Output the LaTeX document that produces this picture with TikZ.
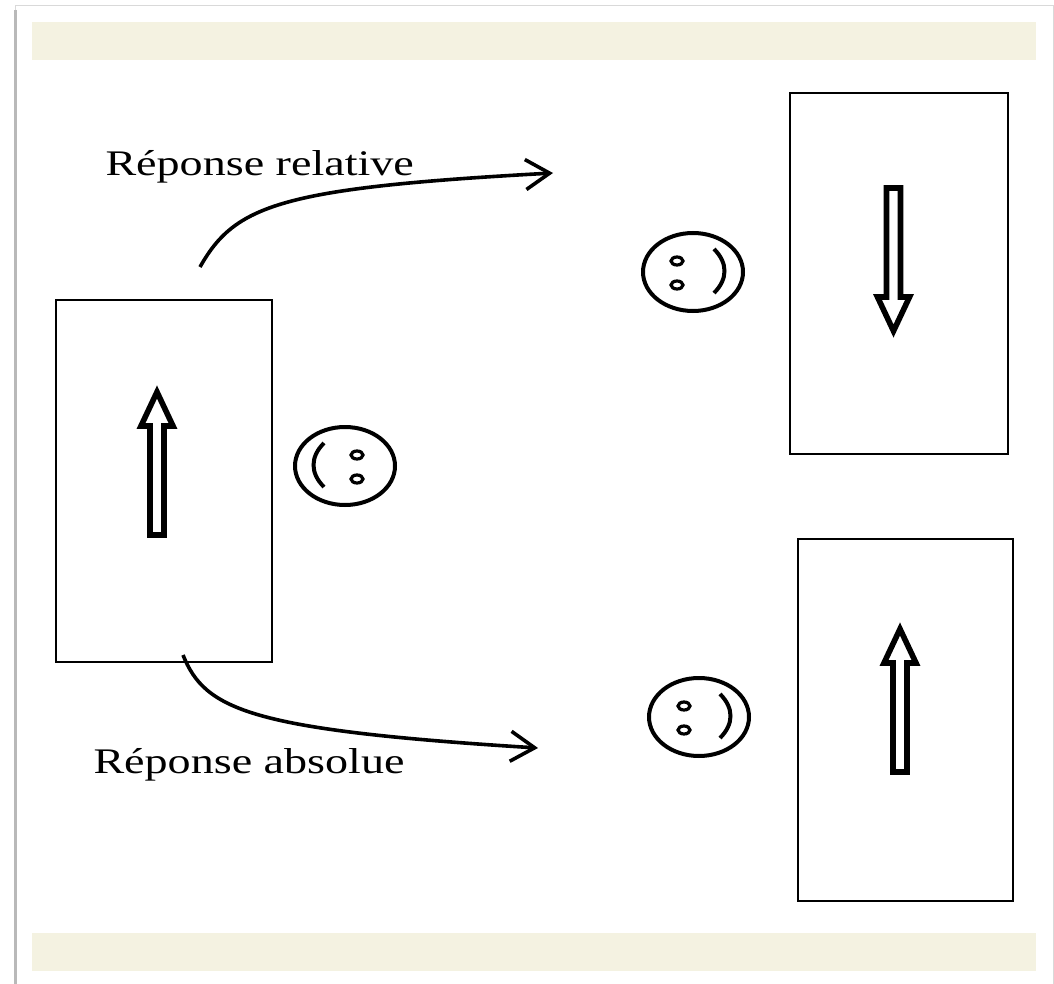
\documentclass[tikz,border=0pt]{standalone}
\usepackage{fontspec}
\setmainfont{Liberation Serif}
\usetikzlibrary{arrows.meta,shapes.geometric}
\definecolor{barbeige}{HTML}{F4F2E1}

\begin{document}
\begin{tikzpicture}[
x=0.5pt, y=-0.5pt,
panel/.style={
  draw,
  line width=1.1pt,
  inner sep=0pt},
face/.style={
  ellipse,
  draw,
  line width=2pt,
  inner sep=0pt,
  minimum width=50pt,
  minimum height=39pt},
hollow/.style={
  line width=2.8pt,
  miter limit=10},
answer/.style={
  line width=1.8pt,
  -{Straight Barb[length=12pt,width=15pt]}},
answertext/.style={
  inner sep=0pt,
  anchor=base west,
  xscale=1.28,
  font=\fontsize{18}{21}\selectfont}
]
\useasboundingbox (0,0) rectangle (1054,984);
% page and bands
\draw[gray!30, fill=white] (15,5) rectangle (1053,995);
\draw[gray!55, line width=1.5pt] (15,10) -- (15,990);
\fill[barbeige] (32,22) rectangle (1036,60);
\fill[barbeige] (32,933) rectangle (1036,971);
% screens
\node[panel, minimum width=108pt, minimum height=181pt] (start) at (164,481) {};
\node[panel, minimum width=109pt, minimum height=180.5pt] (relative) at (899,273.5) {};
\node[panel, minimum width=107.5pt, minimum height=181pt] (absolute) at (905.5,720) {};
% hollow arrows: tail x/y, direction
\foreach \cx/\ty/\d in {157/535/-1, 893.5/188/1, 900/772/-1}
  \draw[hollow] ({\cx-7},\ty) -- ({\cx-7},{\ty+\d*109}) -- ({\cx-16},{\ty+\d*109})
    -- (\cx,{\ty+\d*143}) -- ({\cx+16},{\ty+\d*109}) -- ({\cx+7},{\ty+\d*109})
    -- ({\cx+7},\ty) -- cycle;
% faces
\foreach \fx/\fy/\s/\ex/\nm in {345/466/-1/12/smileleft, 693/272/1/-16/smiletop, 699/717/1/-15/smilebottom}
{
  \node[face] (\nm) at (\fx,\fy) {};
  \draw[line width=1.6pt] ({\fx+\ex},{\fy-11}) ellipse [x radius=3pt, y radius=2pt];
  \draw[line width=1.6pt] ({\fx+\ex},{\fy+13}) ellipse [x radius=3pt, y radius=2pt];
  \draw[line width=2pt] ({\fx+\s*21},{\fy-23}) .. controls ({\fx+\s*35},{\fy-9})
    and ({\fx+\s*35},{\fy+7}) .. ({\fx+\s*21},{\fy+21});
}
% responses
\coordinate (relfrom) at (200,267);
\coordinate (relto) at (553,173);
\coordinate (absfrom) at (183,655);
\coordinate (absto) at (538,748);
\draw[answer] (relfrom) .. controls (235,205) and (280,188) .. (relto);
\draw[answer] (absfrom) .. controls (205,710) and (250,730) .. (absto);
\node[answertext] (reltext) at (105,176) {Réponse relative};
\node[answertext] (abstext) at (93,773) {Réponse absolue};
\end{tikzpicture}
\end{document}
